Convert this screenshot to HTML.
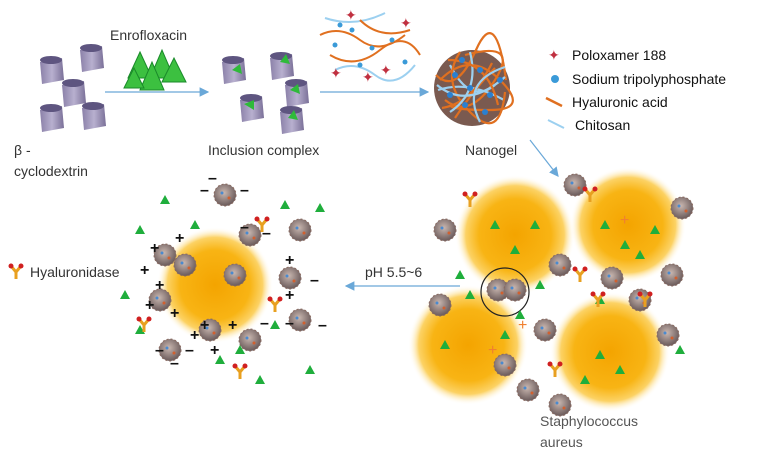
<!DOCTYPE html>
<html><head><meta charset="utf-8"><style>
html,body{margin:0;padding:0;background:#fff;}
svg{display:block;font-family:"Liberation Sans",sans-serif;}
</style></head><body>
<svg width="770" height="474" viewBox="0 0 770 474" xmlns="http://www.w3.org/2000/svg">
<defs>
<radialGradient id="yb" cx="50%" cy="50%" r="50%">
<stop offset="0" stop-color="#f4a400"/><stop offset="0.6" stop-color="#f8b414"/><stop offset="0.82" stop-color="#fcd264"/><stop offset="1" stop-color="#fff" stop-opacity="0"/>
</radialGradient>
<radialGradient id="ng" cx="45%" cy="40%" r="60%">
<stop offset="0" stop-color="#c9b7b0"/><stop offset="1" stop-color="#6a5a5a"/>
</radialGradient>
<linearGradient id="cyl" x1="0" x2="1"><stop offset="0" stop-color="#8a80a8"/><stop offset="0.5" stop-color="#b8b0cf"/><stop offset="1" stop-color="#7a7098"/></linearGradient>
<marker id="ar" markerWidth="8" markerHeight="8" refX="7" refY="4" orient="auto"><path d="M0,0 L8,4 L0,8 z" fill="#6aa8d8"/></marker>
<g id="cy"><path d="M0,0 L22,-4 L24,18 L2,22 z" fill="url(#cyl)"/><ellipse cx="11" cy="-2" rx="11" ry="4" fill="#5e5580"/></g>
<g id="nano"><circle r="11" fill="url(#ng)"/><circle r="11" fill="none" stroke="#8a6a60" stroke-dasharray="2 2"/><circle cx="-3" cy="-2" r="1.5" fill="#4a8ad0"/><circle cx="4" cy="3" r="1.5" fill="#d06030"/></g>
<g id="tri"><path d="M0,-5 L5,4 L-5,4 z" fill="#1fae3c"/></g>
<g id="hyal"><path d="M0,0 L-5,-6 M0,0 L5,-6 M0,0 L0,7" stroke="#e8a020" stroke-width="3"/><circle cx="-5" cy="-6" r="2.5" fill="#d02020"/><circle cx="5" cy="-6" r="2.5" fill="#d02020"/></g>
</defs>

<use href="#cy" x="40" y="62"/><use href="#cy" x="80" y="50"/><use href="#cy" x="62" y="85"/><use href="#cy" x="40" y="110"/><use href="#cy" x="82" y="108"/>
<text x="14" y="155" font-size="14" fill="#333">β -</text>
<text x="14" y="176" font-size="14" fill="#333">cyclodextrin</text>
<text x="110" y="40" font-size="14" fill="#333">Enrofloxacin</text>
<g fill="#3cc040" stroke="#1a8a2a"><path d="M128,78 L140,52 L152,78z"/><path d="M150,78 L162,50 L174,78z"/><path d="M162,82 L174,58 L186,82z"/><path d="M140,90 L152,62 L164,90z"/><path d="M124,88 L134,68 L144,88z"/></g>
<line x1="105" y1="92" x2="208" y2="92" stroke="#6aa8d8" stroke-width="1.2" marker-end="url(#ar)"/>

<use href="#cy" x="222" y="62"/><use href="#cy" x="270" y="58"/><use href="#cy" x="285" y="85"/><use href="#cy" x="240" y="100"/><use href="#cy" x="280" y="112"/>
<g fill="#2fba3a"><path d="M232,70 l8,-6 l2,10z"/><path d="M280,62 l6,-8 l4,10z"/><path d="M244,104 l10,-4 l0,10z"/><path d="M288,118 l6,-8 l4,10z"/><path d="M290,90 l8,-6 l2,10z"/></g>
<text x="208" y="155" font-size="14" fill="#333">Inclusion complex</text>
<line x1="320" y1="92" x2="428" y2="92" stroke="#6aa8d8" stroke-width="1.2" marker-end="url(#ar)"/>
<g fill="none" stroke-width="2">
<path d="M320,35 q20,-10 40,5 t45,-5" stroke="#e07020"/><path d="M330,55 q25,15 50,-5 t40,5" stroke="#e07020"/><path d="M325,18 q30,10 60,-5" stroke="#9cd0f0"/><path d="M335,70 q20,-10 40,5 t40,-10" stroke="#9cd0f0"/><path d="M360,20 q20,20 50,10" stroke="#e07020"/>
</g>
<g fill="#3a9ad8"><circle cx="335" cy="45" r="2.5"/><circle cx="352" cy="30" r="2.5"/><circle cx="372" cy="48" r="2.5"/><circle cx="392" cy="40" r="2.5"/><circle cx="360" cy="65" r="2.5"/><circle cx="405" cy="62" r="2.5"/><circle cx="340" cy="25" r="2.5"/></g>
<g fill="#c03040" font-size="14"><text x="345" y="20">✦</text><text x="380" y="75">✦</text><text x="330" y="78">✦</text><text x="400" y="28">✦</text><text x="362" y="82">✦</text></g>

<circle cx="472" cy="88" r="38" fill="#7a5a50"/>
<g fill="none" stroke-width="2.2">
<path d="M440,80 q30,-30 60,0 t-10,30 t-40,-5" stroke="#e07020"/><path d="M445,100 q25,20 50,-20 t-30,-25" stroke="#e07020"/><path d="M450,65 q20,40 45,20" stroke="#9cd0f0"/><path d="M438,90 q30,-10 66,10" stroke="#9cd0f0"/><path d="M455,118 q20,-30 40,-50" stroke="#e07020"/>
<path d="M436,75 q20,20 40,-25 t30,30" stroke="#e07020"/><path d="M442,108 q30,-5 50,-45" stroke="#e07020"/><path d="M460,52 q-20,30 10,60 t35,-20" stroke="#e07020"/><path d="M437,85 q30,25 68,-8" stroke="#9cd0f0"/><path d="M470,52 q10,40 -20,60" stroke="#9cd0f0"/><path d="M448,60 q40,0 50,45" stroke="#e07020"/><path d="M480,122 q-20,-40 25,-55" stroke="#9cd0f0"/>
</g>
<g fill="#2a80d0"><circle cx="455" cy="75" r="3"/><circle cx="480" cy="70" r="3"/><circle cx="490" cy="95" r="3"/><circle cx="465" cy="105" r="3"/><circle cx="500" cy="80" r="3"/><circle cx="450" cy="95" r="3"/><circle cx="470" cy="88" r="3"/><circle cx="485" cy="112" r="3"/><circle cx="462" cy="60" r="3"/></g>
<text x="465" y="155" font-size="14" fill="#333">Nanogel</text>

<text x="548" y="60" font-size="14" fill="#c03040">✦</text><text x="572" y="60" font-size="14" fill="#111">Poloxamer 188</text>
<circle cx="555" cy="79" r="4" fill="#3a9ad8"/><text x="572" y="84" font-size="14" fill="#111">Sodium tripolyphosphate</text>
<path d="M546,98 q8,4 16,8" stroke="#e07020" stroke-width="2.5" fill="none"/><text x="572" y="107" font-size="14" fill="#111">Hyaluronic acid</text>
<path d="M548,120 q8,4 16,8" stroke="#9cd0f0" stroke-width="2" fill="none"/><text x="575" y="130" font-size="14" fill="#111">Chitosan</text>
<line x1="530" y1="140" x2="558" y2="176" stroke="#6aa8d8" stroke-width="1.2" marker-end="url(#ar)"/>

<circle cx="515" cy="235" r="60" fill="url(#yb)"/>
<circle cx="628" cy="225" r="58" fill="url(#yb)"/>
<circle cx="468" cy="345" r="60" fill="url(#yb)"/>
<circle cx="610" cy="352" r="60" fill="url(#yb)"/>
<circle cx="505" cy="292" r="24" fill="none" stroke="#222" stroke-width="1.2"/>
<g>
<use href="#nano" x="445" y="230"/><use href="#nano" x="575" y="185"/><use href="#nano" x="682" y="208"/><use href="#nano" x="440" y="305"/><use href="#nano" x="498" y="290"/><use href="#nano" x="515" y="290"/><use href="#nano" x="545" y="330"/><use href="#nano" x="560" y="265"/><use href="#nano" x="640" y="300"/><use href="#nano" x="672" y="275"/><use href="#nano" x="528" y="390"/><use href="#nano" x="560" y="405"/><use href="#nano" x="668" y="335"/><use href="#nano" x="612" y="278"/><use href="#nano" x="505" y="365"/>
</g>
<g>
<use href="#tri" x="495" y="225"/><use href="#tri" x="515" y="250"/><use href="#tri" x="535" y="225"/><use href="#tri" x="605" y="225"/><use href="#tri" x="625" y="245"/><use href="#tri" x="460" y="275"/><use href="#tri" x="470" y="295"/><use href="#tri" x="540" y="285"/><use href="#tri" x="600" y="300"/><use href="#tri" x="640" y="255"/><use href="#tri" x="680" y="350"/><use href="#tri" x="600" y="355"/><use href="#tri" x="620" y="370"/><use href="#tri" x="520" y="315"/><use href="#tri" x="445" y="345"/><use href="#tri" x="585" y="380"/><use href="#tri" x="505" y="335"/><use href="#tri" x="655" y="230"/>
</g>
<g><use href="#hyal" x="590" y="195"/><use href="#hyal" x="470" y="200"/><use href="#hyal" x="580" y="275"/><use href="#hyal" x="645" y="300"/><use href="#hyal" x="555" y="370"/><use href="#hyal" x="598" y="300"/></g>
<g fill="#f08030" font-size="16"><text x="518" y="330">+</text><text x="488" y="355">+</text><text x="620" y="225">+</text></g>
<text x="540" y="426" font-size="14" fill="#555">Staphylococcus</text>
<text x="540" y="447" font-size="14" fill="#555">aureus</text>

<line x1="460" y1="286" x2="346" y2="286" stroke="#6aa8d8" stroke-width="1.2" marker-end="url(#ar)"/>
<text x="365" y="277" font-size="14" fill="#333">pH 5.5~6</text>

<circle cx="215" cy="285" r="58" fill="url(#yb)"/>
<g>
<use href="#nano" x="225" y="195"/><use href="#nano" x="250" y="235"/><use href="#nano" x="300" y="230"/><use href="#nano" x="165" y="255"/><use href="#nano" x="160" y="300"/><use href="#nano" x="185" y="265"/><use href="#nano" x="235" y="275"/><use href="#nano" x="290" y="278"/><use href="#nano" x="300" y="320"/><use href="#nano" x="210" y="330"/><use href="#nano" x="170" y="350"/><use href="#nano" x="250" y="340"/>
</g>
<g>
<use href="#tri" x="165" y="200"/><use href="#tri" x="195" y="225"/><use href="#tri" x="140" y="230"/><use href="#tri" x="320" y="208"/><use href="#tri" x="285" y="205"/><use href="#tri" x="125" y="295"/><use href="#tri" x="140" y="330"/><use href="#tri" x="220" y="360"/><use href="#tri" x="260" y="380"/><use href="#tri" x="310" y="370"/><use href="#tri" x="240" y="350"/><use href="#tri" x="275" y="325"/>
</g>
<g><use href="#hyal" x="16" y="272"/><use href="#hyal" x="262" y="225"/><use href="#hyal" x="144" y="325"/><use href="#hyal" x="240" y="372"/><use href="#hyal" x="275" y="305"/></g>
<g font-size="16" font-weight="bold" fill="#111">
<text x="200" y="195">–</text><text x="208" y="183">–</text><text x="240" y="195">–</text><text x="240" y="232">–</text><text x="262" y="238">–</text><text x="150" y="253">+</text><text x="140" y="275">+</text><text x="155" y="290">+</text><text x="145" y="310">+</text><text x="170" y="318">+</text><text x="285" y="265">+</text><text x="310" y="285">–</text><text x="285" y="300">+</text><text x="200" y="330">+</text><text x="190" y="340">+</text><text x="228" y="330">+</text><text x="260" y="328">–</text><text x="285" y="328">–</text><text x="318" y="330">–</text><text x="155" y="355">–</text><text x="170" y="368">–</text><text x="185" y="355">–</text><text x="175" y="243">+</text><text x="210" y="355">+</text>
</g>
<text x="30" y="277" font-size="14" fill="#333">Hyaluronidase</text>
</svg>
</body></html>
